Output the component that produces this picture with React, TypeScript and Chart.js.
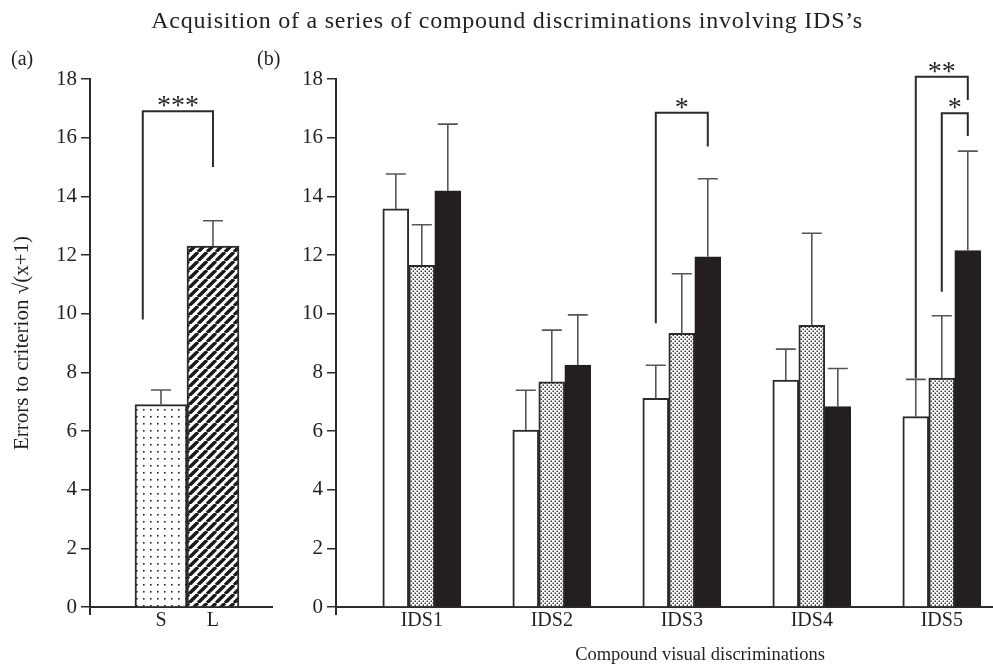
import React, { useEffect, useRef } from 'react';
import { Chart, registerables } from 'chart.js';

Chart.register(...registerables);

// ---------- data ----------
const panelACategories = ['S', 'L'];
const panelAMeans = [6.9, 12.3];
const panelAErrors = [0.5, 0.87];

const panelBCategories = ['IDS1', 'IDS2', 'IDS3', 'IDS4', 'IDS5'];
const seriesWhite = [13.57, 6.03, 7.11, 7.74, 6.49];
const seriesWhiteErr = [1.19, 1.36, 1.13, 1.05, 1.27];
const seriesDotted = [11.65, 7.68, 9.33, 9.6, 7.8];
const seriesDottedErr = [1.38, 1.76, 2.03, 3.14, 2.13];
const seriesBlack = [14.19, 8.25, 11.94, 6.83, 12.15];
const seriesBlackErr = [2.27, 1.71, 2.66, 1.3, 3.39];

const yTickValues = [0, 2, 4, 6, 8, 10, 12, 14, 16, 18];

// significance brackets (values in data units)
const bracketsA = [{ fromX: 0.65, toX: 2, top: 16.9, leftEnd: 9.8, rightEnd: 15.0, label: '***' }];
const bracketsB = [
  { cat: 2, fromSeries: 0, toSeries: 2, top: 16.85, leftEnd: 9.67, rightEnd: 15.7, label: '*' },
  { cat: 4, fromSeries: 0, toSeries: 2, top: 18.08, leftEnd: 7.8, rightEnd: 17.28, label: '**' },
  { cat: 4, fromSeries: 1, toSeries: 2, top: 16.83, leftEnd: 10.75, rightEnd: 16.06, label: '*' },
];

const FONT = '"Liberation Serif", "Times New Roman", serif';
const TEXT = '#231f20';
const AXIS = '#2b2b2b';
const ERR = '#555';

function makePattern(kind: string): CanvasPattern | string {
  const c = document.createElement('canvas');
  const ctx = c.getContext('2d');
  if (!ctx) return '#ccc';
  if (kind === 'sparse') {
    c.width = 7; c.height = 7;
    ctx.fillStyle = '#fff'; ctx.fillRect(0, 0, 7, 7);
    ctx.fillStyle = '#222'; ctx.fillRect(3, 3, 1.6, 1.6);
  } else if (kind === 'fine') {
    c.width = 4; c.height = 4;
    ctx.fillStyle = '#fff'; ctx.fillRect(0, 0, 4, 4);
    ctx.fillStyle = '#3a3a3a';
    ctx.fillRect(0.5, 0.5, 1.5, 1.5);
    ctx.fillRect(2.5, 2.5, 1.5, 1.5);
  } else {
    const s = 9;
    c.width = s; c.height = s;
    ctx.fillStyle = '#fff'; ctx.fillRect(0, 0, s, s);
    ctx.strokeStyle = '#1a1a1a'; ctx.lineWidth = 3.4;
    ctx.beginPath();
    for (const x0 of [-s, 0, s]) {
      ctx.moveTo(x0, s);
      ctx.lineTo(x0 + s, 0);
    }
    ctx.stroke();
  }
  return ctx.createPattern(c, 'repeat') || '#ccc';
}

function drawBracket(ctx: CanvasRenderingContext2D, xL: number, xR: number, yTop: number, yL: number, yR: number, label: string) {
  ctx.save();
  ctx.strokeStyle = AXIS;
  ctx.lineWidth = 2;
  ctx.lineCap = 'butt';
  ctx.beginPath();
  ctx.moveTo(xL, yL);
  ctx.lineTo(xL, yTop);
  ctx.lineTo(xR, yTop);
  ctx.lineTo(xR, yR);
  ctx.stroke();
  ctx.fillStyle = TEXT;
  ctx.font = '28px ' + FONT;
  ctx.textAlign = 'center';
  ctx.textBaseline = 'alphabetic';
  ctx.fillText(label, (xL + xR) / 2, yTop + 3);
  ctx.restore();
}

const errorBarPlugin = {
  id: 'errorBars',
  afterDatasetsDraw(chart: any) {
    const ctx = chart.ctx;
    const y = chart.scales.y;
    chart.data.datasets.forEach((ds: any, i: number) => {
      const meta = chart.getDatasetMeta(i);
      meta.data.forEach((el: any, j: number) => {
        const v = ds.data[j].y;
        const e = ds.errors[j];
        const yTop = el.y;
        const yErr = y.getPixelForValue(v + e);
        ctx.save();
        ctx.strokeStyle = ERR;
        ctx.lineWidth = 1.6;
        ctx.beginPath();
        ctx.moveTo(el.x, yTop);
        ctx.lineTo(el.x, yErr);
        ctx.moveTo(el.x - 10, yErr);
        ctx.lineTo(el.x + 10, yErr);
        ctx.stroke();
        ctx.restore();
      });
    });
  },
};

const axisStubPlugin = {
  id: 'axisStub',
  afterDraw(chart: any) {
    const { ctx, chartArea } = chart;
    ctx.save();
    ctx.strokeStyle = AXIS;
    ctx.lineWidth = 2;
    ctx.beginPath();
    ctx.moveTo(chartArea.left, chartArea.bottom);
    ctx.lineTo(chartArea.left, chartArea.bottom + 8);
    ctx.stroke();
    ctx.restore();
  },
};

function yScale(width: number, withTitle: boolean) {
  return {
    type: 'linear',
    min: 0,
    max: 18,
    afterBuildTicks: (s: any) => { s.ticks = yTickValues.map((v) => ({ value: v })); },
    afterFit: (s: any) => { s.width = width; },
    ticks: { color: TEXT, font: { family: FONT, size: 21 }, padding: 4 },
    grid: { display: true, drawOnChartArea: false, drawTicks: true, tickLength: 9, color: AXIS, lineWidth: 1.5 },
    border: { display: true, color: AXIS, width: 2 },
    title: withTitle
      ? { display: true, text: 'Errors to criterion √(x+1)', color: TEXT, font: { family: FONT, size: 21 }, padding: { top: 10, bottom: 0 } }
      : { display: false },
  };
}

function xScale(min: number, max: number, cats: string[]) {
  return {
    type: 'linear',
    min,
    max,
    offset: false,
    afterBuildTicks: (s: any) => { s.ticks = cats.map((_, i) => ({ value: i + 1 })); },
    afterFit: (s: any) => { s.height = 40; },
    ticks: {
      color: TEXT,
      font: { family: FONT, size: 20 },
      padding: 2,
      autoSkip: false,
      maxRotation: 0,
      callback: (v: number) => cats[Math.round(v) - 1] ?? '',
    },
    grid: { display: false, drawTicks: false },
    border: { display: true, color: AXIS, width: 2 },
  };
}

export default function App() {
  const refA = useRef<HTMLCanvasElement | null>(null);
  const refB = useRef<HTMLCanvasElement | null>(null);

  useEffect(() => {
    if (!refA.current || !refB.current) return;
    const sparse = makePattern('sparse');
    const stripes = makePattern('stripes');
    const fine = makePattern('fine');

    const common = {
      responsive: false,
      animation: false,
      devicePixelRatio: 1,
      plugins: { legend: { display: false }, tooltip: { enabled: false } },
    };

    const chartA = new Chart(refA.current, {
      type: 'bar',
      data: {
        datasets: [
          {
            data: panelAMeans.map((v, i) => ({ x: i + 1, y: v })),
            errors: panelAErrors,
            backgroundColor: [sparse, stripes],
            borderColor: AXIS,
            borderWidth: 2,
            barThickness: 52,
          } as any,
        ],
      },
      options: {
        ...common,
        layout: { padding: { left: 0, right: 28, top: 79, bottom: 18 } },
        scales: { x: xScale(-0.365, 3.135, panelACategories), y: yScale(90, true) },
      } as any,
      plugins: [
        errorBarPlugin,
        axisStubPlugin,
        {
          id: 'bracketsA',
          afterDraw(chart: any) {
            const xs = chart.scales.x;
            const ys = chart.scales.y;
            bracketsA.forEach((b) => {
              drawBracket(chart.ctx, xs.getPixelForValue(b.fromX), xs.getPixelForValue(b.toX), ys.getPixelForValue(b.top),
                ys.getPixelForValue(b.leftEnd), ys.getPixelForValue(b.rightEnd), b.label);
            });
          },
        },
      ],
    } as any);

    const seriesVals = [seriesWhite, seriesDotted, seriesBlack];
    const seriesErrs = [seriesWhiteErr, seriesDottedErr, seriesBlackErr];
    const fills = ['#ffffff', fine, '#231f20'];

    const chartB = new Chart(refB.current, {
      type: 'bar',
      data: {
        datasets: seriesVals.map((vals, k) => ({
          data: vals.map((v, i) => ({ x: i + 1, y: v })),
          errors: seriesErrs[k],
          backgroundColor: fills[k],
          borderColor: k === 2 ? '#231f20' : AXIS,
          borderWidth: 2,
          barThickness: 26,
        })) as any,
      },
      options: {
        ...common,
        layout: { padding: { left: 0, right: 0, top: 79, bottom: 18 } },
        scales: { x: xScale(0.34, 5.394, panelBCategories), y: yScale(46, false) },
      } as any,
      plugins: [
        errorBarPlugin,
        axisStubPlugin,
        {
          id: 'bracketsB',
          afterDraw(chart: any) {
            const ys = chart.scales.y;
            bracketsB.forEach((b) => {
              const xL = chart.getDatasetMeta(b.fromSeries).data[b.cat].x;
              const xR = chart.getDatasetMeta(b.toSeries).data[b.cat].x;
              drawBracket(chart.ctx, xL, xR, ys.getPixelForValue(b.top), ys.getPixelForValue(b.leftEnd),
                ys.getPixelForValue(b.rightEnd), b.label);
            });
          },
        },
      ],
    } as any);

    return () => {
      chartA.destroy();
      chartB.destroy();
    };
  }, []);

  const txt = (extra: React.CSSProperties): React.CSSProperties => ({
    position: 'absolute',
    whiteSpace: 'nowrap',
    fontFamily: FONT,
    color: TEXT,
    lineHeight: 1,
    ...extra,
  });

  return (
    <div style={{ position: 'absolute', left: 0, top: 0, width: 993, height: 665, background: '#fff', overflow: 'hidden' }}>
      <canvas ref={refA} width={300} height={665} style={{ position: 'absolute', left: 0, top: 0, width: 300, height: 665 }} />
      <canvas ref={refB} width={703} height={665} style={{ position: 'absolute', left: 290, top: 0, width: 703, height: 665 }} />
      <div style={txt({ left: 507, top: 8, fontSize: 24, letterSpacing: '0.75px', transform: 'translateX(-50%)' })}>
        Acquisition of a series of compound discriminations involving IDS’s
      </div>
      <div style={txt({ left: 11, top: 48, fontSize: 20 })}>(a)</div>
      <div style={txt({ left: 257, top: 48, fontSize: 20 })}>(b)</div>
      <div style={txt({ left: 700, top: 645, fontSize: 18.5, transform: 'translateX(-50%)' })}>
        Compound visual discriminations
      </div>
    </div>
  );
}
